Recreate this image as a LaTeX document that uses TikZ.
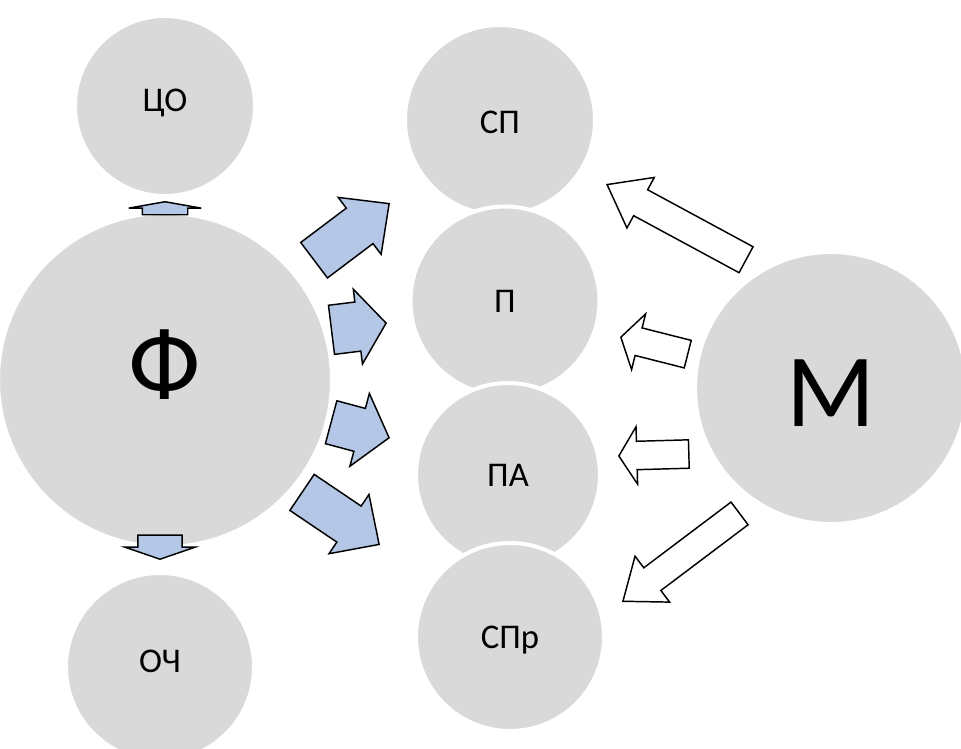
\documentclass[tikz,border=0pt]{standalone}
\usepackage{fontspec}
\setmainfont{Carlito}
\usetikzlibrary{shapes.arrows}
\definecolor{ballgray}{HTML}{D9D9D9}
\definecolor{arrowblue}{HTML}{B4C7E7}
\tikzset{
  {ball/.style} ={circle, fill=ballgray, draw=white, line width=3pt,
                  inner sep=0, text height=16.8pt, text depth=0pt,
                  font=\fontsize{26}{28}\selectfont},
  {big ball/.style} ={ball, text height=51.5pt,
                  font=\fontsize{78}{80}\selectfont},
  {block arrow/.style} ={single arrow, draw=black, line width=1.1pt,
                  inner xsep=0, anchor=tip, line join=miter},
  {blue arrow/.style} ={block arrow, fill=arrowblue},
  {white arrow/.style} ={block arrow, fill=white},
}
\begin{document}
\begin{tikzpicture}[x=0.75pt,y=-0.75pt]
    \useasboundingbox (0,0) rectangle (961,749);
    % circles, top to bottom
    \node[ball, minimum size=135pt, text depth=9pt] (co) at (165,106) {ЦО};
    \node[big ball, minimum size=250.5pt, text depth=22pt] (f) at (165,380) {Ф};
    \node[ball, minimum size=141pt, text depth=9pt] (och) at (160,667) {ОЧ};
    \node[ball, minimum size=142.5pt, text height=20pt] (sp) at (500,120) {СП};
    \node[ball, minimum size=141.75pt] (p) at (505,301) {П};
    \node[ball, minimum size=138pt] (pa) at (508,475) {ПА};
    \node[ball, minimum size=141pt] (spr) at (510,637) {СПр};
    \node[big ball, minimum size=204pt, text height=57.5pt] (m) at (831,388) {М};
    % arrows from Ф
    \node[blue arrow, rotate=90, minimum height=9.75pt, inner ysep=16.5pt,
          single arrow head extend=10.1pt, single arrow tip angle=160] (fco) at (165,201) {};
    \node[blue arrow, rotate=-90, minimum height=18pt, inner ysep=16.1pt,
          single arrow head extend=9.75pt, single arrow tip angle=142] (foch) at (160,560) {};
    \node[blue arrow, rotate=37, minimum height=70.5pt, inner ysep=16.1pt,
          single arrow head extend=10.1pt, single arrow tip angle=88] (fsp) at (390,203) {};
    \node[blue arrow, rotate=7, minimum height=41.25pt, inner ysep=18pt,
          single arrow head extend=9.75pt, single arrow tip angle=106] (fp) at (387,323) {};
    \node[blue arrow, rotate=-15, minimum height=45pt, inner ysep=16.1pt,
          single arrow head extend=11.6pt, single arrow tip angle=102] (fpa) at (390,438) {};
    \node[blue arrow, rotate=-34, minimum height=69.75pt, inner ysep=15.75pt,
          single arrow head extend=10.5pt, single arrow tip angle=89] (fspr) at (380,545) {};
    % arrows from М
    \node[white arrow, rotate=151.6, minimum height=118.5pt, inner ysep=10.5pt,
          single arrow head extend=10.5pt, single arrow tip angle=74] (msp) at (606,184) {};
    \node[white arrow, rotate=165.8, minimum height=51.75pt, inner ysep=10.1pt,
          single arrow head extend=10.9pt, single arrow tip angle=115] (mp) at (620,337) {};
    \node[white arrow, rotate=181.6, minimum height=52.5pt, inner ysep=10.1pt,
          single arrow head extend=10.9pt, single arrow tip angle=116] (mpa) at (618,456) {};
    \node[white arrow, rotate=217, minimum height=109.5pt, inner ysep=10.1pt,
          single arrow head extend=10.9pt, single arrow tip angle=76] (mspr) at (622,602) {};
\end{tikzpicture}
\end{document}
